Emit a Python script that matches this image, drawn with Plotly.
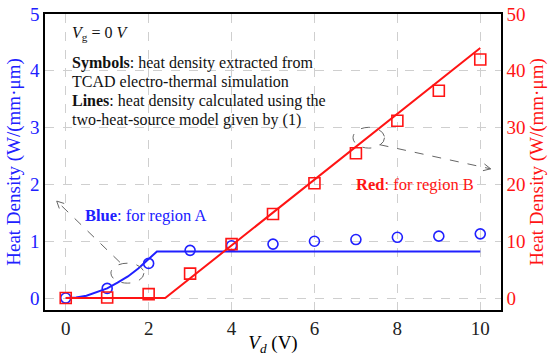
import plotly.graph_objects as go

vd_points = [0, 1, 2, 3, 4, 5, 6, 7, 8, 9, 10]
blue_sym = [0.0, 0.17, 0.61, 0.84, 0.92, 0.95, 1.00, 1.03, 1.07, 1.09, 1.13]
red_sym = [0.0, 0.1, 0.7, 4.3, 9.5, 14.8, 20.2, 25.5, 31.2, 36.5, 42.0]

blue_line_x = [0, 0.25, 0.5, 0.75, 1.0, 1.25, 1.5, 1.75, 2.0, 2.2, 10]
blue_line_y = [0, 0.01, 0.04, 0.10, 0.17, 0.27, 0.38, 0.52, 0.68, 0.82, 0.82]
red_line_x = [0, 2.4, 10]
red_line_y = [0, 0, 44]

x_ticks = [0, 2, 4, 6, 8, 10]
yl_ticks = [0, 1, 2, 3, 4, 5]
yr_ticks = [0, 10, 20, 30, 40, 50]

BLUE = "#2020ff"
RED = "#ff1414"
FONT = "Liberation Serif, Times New Roman, DejaVu Serif, serif"

fig = go.Figure()
fig.add_trace(go.Scatter(x=blue_line_x, y=blue_line_y, mode="lines",
                         line=dict(color=BLUE, width=2), yaxis="y"))
fig.add_trace(go.Scatter(x=vd_points, y=blue_sym, mode="markers",
                         marker=dict(symbol="circle-open", size=10, color=BLUE,
                                     line=dict(width=1.6)), yaxis="y"))
fig.add_trace(go.Scatter(x=red_line_x, y=red_line_y, mode="lines",
                         line=dict(color=RED, width=2), yaxis="y2"))
fig.add_trace(go.Scatter(x=vd_points, y=red_sym, mode="markers",
                         marker=dict(symbol="square-open", size=11, color=RED,
                                     line=dict(width=1.6)), yaxis="y2"))

fig.update_layout(
    width=548, height=356,
    margin=dict(l=45, r=47, t=14, b=46, autoexpand=False),
    paper_bgcolor="white", plot_bgcolor="white",
    showlegend=False,
    font=dict(family=FONT, size=17, color="black"),
    xaxis=dict(range=[-0.5, 10.5], tickvals=x_ticks, showgrid=True,
               gridcolor="#cfcfcf", griddash="dash", gridwidth=1,
               showline=True, linecolor="black", linewidth=1.5, mirror=True,
               zeroline=False, ticks="", automargin=False,
               tickfont=dict(family=FONT, size=19, color="#222"),
               title=dict(text="<i>V</i><sub><i>d</i></sub> (V)",
                          font=dict(family=FONT, size=19), standoff=9)),
    yaxis=dict(range=[-0.21, 5], tickvals=yl_ticks, showgrid=True,
               gridcolor="#cfcfcf", griddash="dash", gridwidth=1,
               showline=True, linecolor="black", linewidth=1.5,
               zeroline=False, ticks="", automargin=False,
               tickfont=dict(family=FONT, size=19, color=BLUE),
               title=dict(text="Heat Density (W/(mm·μm)",
                          font=dict(family=FONT, size=19, color=BLUE), standoff=4)),
    yaxis2=dict(range=[-2.1, 50], tickvals=yr_ticks, overlaying="y",
                side="right", showgrid=False, showline=True,
                linecolor="black", linewidth=1.5, zeroline=False, ticks="",
                automargin=False,
                tickfont=dict(family=FONT, size=19, color=RED),
                title=dict(text="Heat Density (W/(mm·μm)",
                           font=dict(family=FONT, size=19, color=RED), standoff=5)),
)

ann_font = dict(family=FONT, size=16, color="#111")
fig.add_annotation(x=0.10, y=4.65, xref="x", yref="y", xanchor="left",
                   yanchor="middle", showarrow=False,
                   text="<i>V</i><sub>g</sub> = 0 <i>V</i>",
                   font=dict(family=FONT, size=16, color="#111"))
lines = ["<b>Symbols</b>: heat density extracted from",
         "TCAD electro-thermal simulation",
         "<b>Lines</b>: heat density calculated using the",
         "two-heat-source model given by (1)"]
for txt, yy in zip(lines, [4.14, 3.81, 3.47, 3.14]):
    fig.add_annotation(x=0.10, y=yy, xref="x", yref="y", xanchor="left",
                       yanchor="middle", showarrow=False, text=txt, font=ann_font)

fig.add_annotation(x=0.42, y=1.45, xref="x", yref="y", xanchor="left",
                   yanchor="middle", showarrow=False,
                   text="<b>Blue</b>: for region A",
                   font=dict(family=FONT, size=16.5, color=BLUE))
fig.add_annotation(x=6.95, y=2.0, xref="x", yref="y", xanchor="left",
                   yanchor="middle", showarrow=False,
                   text="<b>Red</b>: for region B",
                   font=dict(family=FONT, size=16.5, color=RED))

GRAY = "#666"
# ellipses
fig.add_shape(type="circle", xref="x", yref="y", x0=1.09, x1=1.886,
              y0=0.263, y1=0.614, line=dict(color=GRAY, width=1, dash="dash"))
fig.add_shape(type="circle", xref="x", yref="y2", x0=6.93, x1=7.69,
              y0=26.4, y1=30.05, line=dict(color=GRAY, width=1, dash="dash"))
# dashed arrow lines
fig.add_shape(type="line", xref="x", yref="y", x0=1.307, y0=0.63,
              x1=-0.218, y1=1.707, line=dict(color=GRAY, width=1, dash="dash"))
fig.add_shape(type="line", xref="x", yref="y2", x0=7.57, y0=27.0,
              x1=10.25, y1=22.75, line=dict(color=GRAY, width=1, dash="dash"))
# open arrowheads
fig.add_shape(type="path", xref="x", yref="y",
              path="M -0.037 1.665 L -0.218 1.707 L -0.155 1.577",
              line=dict(color=GRAY, width=1))
fig.add_shape(type="path", xref="x", yref="y2",
              path="M 10.064 22.42 L 10.25 22.75 L 10.100 23.61",
              line=dict(color=GRAY, width=1))

fig.write_html("out.html")
